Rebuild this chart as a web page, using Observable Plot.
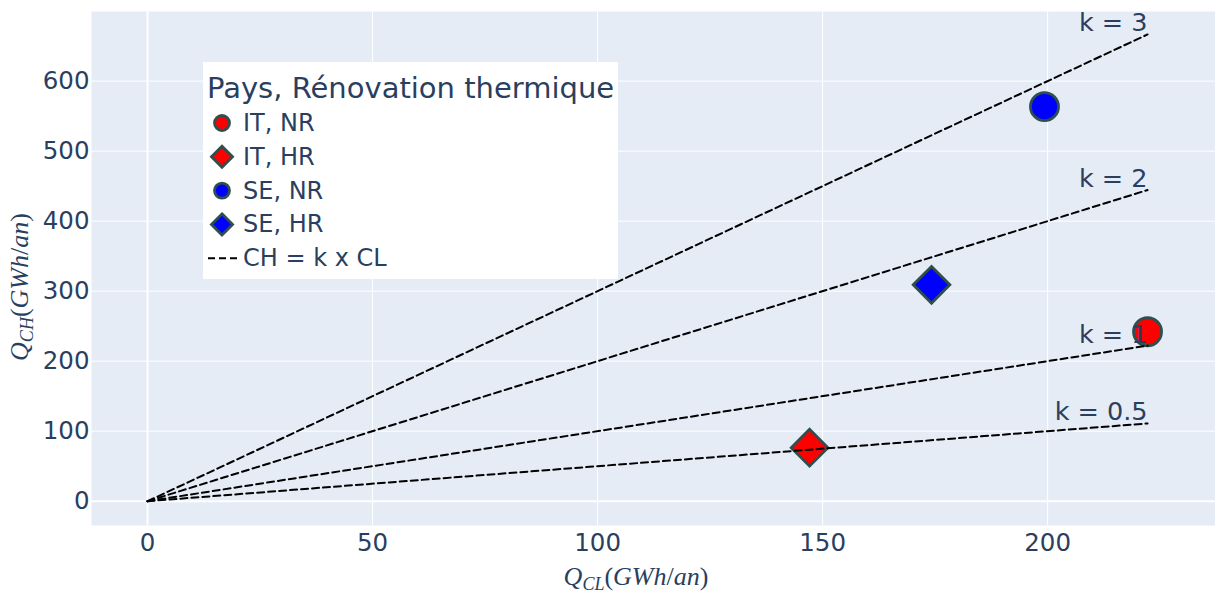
<!DOCTYPE html>
<html><head><meta charset="utf-8">
<script src="https://cdn.jsdelivr.net/npm/d3@7"></script>
<script src="https://cdn.jsdelivr.net/npm/@observablehq/plot@0.6"></script>
<style>
body{margin:0;background:#fff;}
#wrap{position:relative;width:1215px;height:595px;}
#legend{position:absolute;left:203px;top:62px;}
</style></head><body><div id="wrap"></div>
<script>
// ---- data ----
const countries = ["IT", "IT", "SE", "SE"];
const renovation = ["NR", "HR", "NR", "HR"];
const qCL = [222.2, 147.1, 199.3, 174.2];
const qCH = [242, 76.5, 563.5, 309];
const kLabels = ["k = 0.5", "k = 1", "k = 2", "k = 3"];
const lineStartCL = 0, lineStartCH = 0;
const lineEndCL = 222.2;
const lineEndCH = [111.1, 222.2, 444.4, 666.6];
const xTicks = [0, 50, 100, 150, 200];
const yTicks = [0, 100, 200, 300, 400, 500, 600];
const legendTitle = "Pays, Rénovation thermique";
const legendItems = ["IT, NR", "IT, HR", "SE, NR", "SE, HR"];
const legendLineLabel = "CH = k x CL";
const countryColor = {IT: "#ff0000", SE: "#0000ff"};

// ---- derived tables ----
const points = countries.map((c, i) => ({country: c, reno: renovation[i], x: qCL[i], y: qCH[i]}));
const lines = kLabels.flatMap((k, i) => [
  {k, x: lineStartCL, y: lineStartCH},
  {k, x: lineEndCL, y: lineEndCH[i]}
]);
const labels = kLabels.map((k, i) => ({k, x: lineEndCL, y: lineEndCH[i]}));

const txt = "#2a3f5f";
const outline = "#2f4f4f";

const chart = Plot.plot({
  width: 1215, height: 595,
  marginLeft: 91, marginRight: 0, marginTop: 11, marginBottom: 70,
  style: {fontFamily: "DejaVu Sans", color: txt, background: "white"},
  x: {domain: [-12.45, 237.3]},
  y: {domain: [-34.7, 699.4]},
  marks: [
    Plot.frame({fill: "#e5ecf6", stroke: null}),
    Plot.gridX(xTicks.filter(t => t !== 0), {stroke: "white", strokeOpacity: 1, strokeWidth: 1}),
    Plot.gridY(yTicks.filter(t => t !== 0), {stroke: "white", strokeOpacity: 1, strokeWidth: 1}),
    Plot.ruleX([0], {stroke: "white", strokeWidth: 2}),
    Plot.ruleY([0], {stroke: "white", strokeWidth: 2}),
    Plot.axisX({ticks: xTicks, tickSize: 0, tickPadding: 8, fontSize: 24.5, label: null}),
    Plot.axisY({ticks: yTicks, tickSize: 0, tickPadding: 2, fontSize: 24.5, label: null}),
    Plot.dot(points.filter(d => d.reno === "NR"), {x: "x", y: "y", symbol: "circle", r: 14,
      fill: d => countryColor[d.country], stroke: outline, strokeWidth: 2.8}),
    Plot.dot(points.filter(d => d.reno === "HR"), {x: "x", y: "y", symbol: "diamond2", r: 16.5,
      fill: d => countryColor[d.country], stroke: outline, strokeWidth: 2.8}),
    Plot.line(lines, {x: "x", y: "y", z: "k", stroke: "black", strokeWidth: 2, strokeDasharray: "7,4"}),
    Plot.text(labels, {x: "x", y: "y", text: "k", textAnchor: "end", lineAnchor: "bottom", dy: -3,
      fontSize: 25.5, fill: txt})
  ]
});
document.getElementById("wrap").appendChild(chart);

// ---- axis titles (math-style) ----
const svg = d3.select(chart);
function mathTitle(g, sub) {
  const t = g.append("text").attr("text-anchor", "middle").attr("fill", txt)
    .style("font-family", "'Liberation Serif', serif").style("font-size", "26px");
  t.append("tspan").style("font-style", "italic").text("Q");
  t.append("tspan").style("font-style", "italic").style("font-size", "18px").attr("dy", 5).text(sub);
  t.append("tspan").attr("dy", -5).text("(");
  t.append("tspan").style("font-style", "italic").text("GWh");
  t.append("tspan").text("/");
  t.append("tspan").style("font-style", "italic").text("an");
  t.append("tspan").text(")");
  return t;
}
mathTitle(svg.append("g").attr("transform", "translate(636,585)"), "CL");
mathTitle(svg.append("g").attr("transform", "translate(28,287) rotate(-90)"), "CH");

// ---- legend ----
const lg = d3.select("#wrap").append("svg").attr("id", "legend")
  .attr("width", 415).attr("height", 217)
  .style("font-family", "DejaVu Sans");
lg.append("rect").attr("width", 415).attr("height", 217).attr("fill", "white");
lg.append("text").attr("x", 4).attr("y", 36).attr("fill", txt).style("font-size", "29px").text(legendTitle);
const rowY0 = 69, rowStep = 33.8;
legendItems.forEach((label, i) => {
  const y = rowY0 + i * rowStep;
  const reno = renovation[i], c = countries[i];
  const sym = reno === "NR" ? d3.symbolCircle : d3.symbolDiamond2;
  const size = reno === "NR" ? Math.PI * 7.5 * 7.5 : Math.PI * 9.5 * 9.5;
  lg.append("path").attr("d", d3.symbol(sym, size)())
    .attr("transform", `translate(19,${y - 8})`)
    .attr("fill", countryColor[c]).attr("stroke", outline).attr("stroke-width", 2.8);
  lg.append("text").attr("x", 40).attr("y", y).attr("fill", txt).style("font-size", "24px").text(label);
});
const ly = rowY0 + 4 * rowStep;
lg.append("line").attr("x1", 5).attr("x2", 35).attr("y1", ly - 8).attr("y2", ly - 8)
  .attr("stroke", "black").attr("stroke-width", 2).attr("stroke-dasharray", "7,4");
lg.append("text").attr("x", 40).attr("y", ly).attr("fill", txt).style("font-size", "24px").text(legendLineLabel);
</script></body></html>
